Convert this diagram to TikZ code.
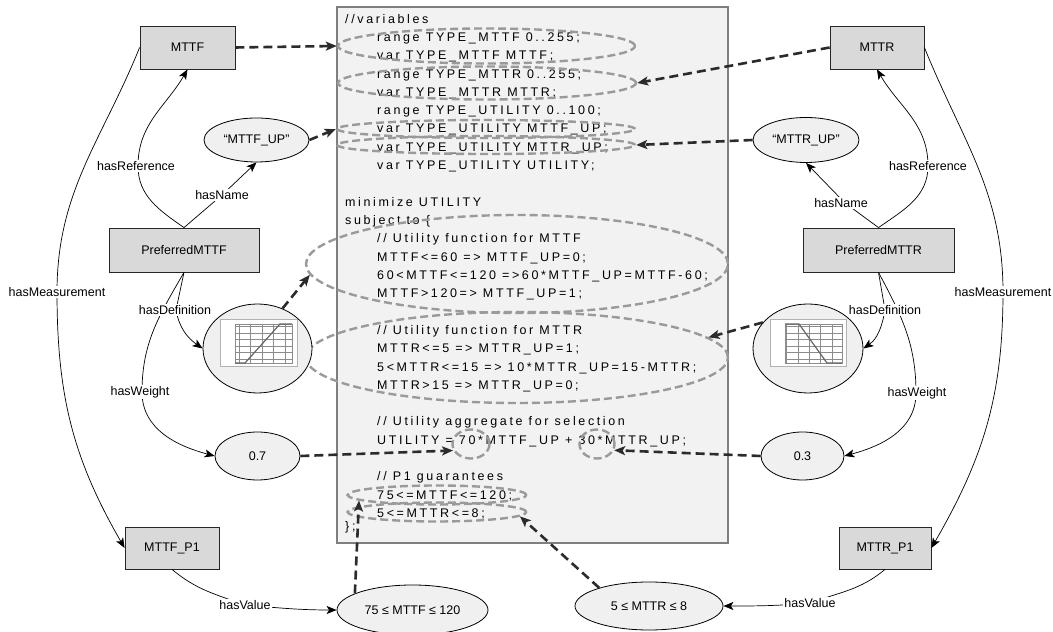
\documentclass[tikz,border=0pt]{standalone}
\usepackage{fontspec}
\setmainfont{Liberation Sans}
\newfontfamily\codefont[LetterSpace=21]{Liberation Sans}
\usetikzlibrary{shapes.geometric,arrows.meta}
\definecolor{boxfill}{HTML}{D9D9D9}
\definecolor{ellfill}{HTML}{F0F0F0}
\definecolor{panelfill}{HTML}{F2F2F2}
\definecolor{panelline}{HTML}{7F7F7F}
\definecolor{gdash}{HTML}{9A9A9A}
\definecolor{bdash}{HTML}{2B2B2B}
\definecolor{gridc}{HTML}{8C8C8C}
\begin{document}
\begin{tikzpicture}[x=1pt,y=1pt,
  box/.style={draw=black!85, fill=boxfill, line width=0.8pt, minimum width=#1, minimum height=43pt, inner sep=0pt, font=\fontsize{12.5}{14}\selectfont},
  box/.default=95pt,
  ell/.style={draw=black, fill=ellfill, line width=0.8pt, ellipse, inner sep=0pt, font=\fontsize{12.5}{14}\selectfont},
  lbl/.style={fill=white, inner sep=1pt, font=\fontsize{12.5}{14}\selectfont},
  rel/.style={draw=black, line width=0.7pt, -{Stealth[length=10pt,width=8pt,inset=2.5pt]}},
  dref/.style={draw=bdash, line width=2.6pt, dash pattern=on 9pt off 5pt, -{Stealth[length=11pt,width=9pt,inset=2.5pt]}},
  gell/.style={draw=gdash, line width=2.4pt, dash pattern=on 8pt off 4pt, ellipse, inner sep=0pt},
  code/.style={anchor=west, inner sep=0pt, text height=9pt, text depth=0pt, font=\codefont\fontsize{12.5}{14}\selectfont},
  panel/.style={draw=panelline, fill=panelfill, line width=1.5pt, inner sep=0pt}
]
\useasboundingbox (0,0) rectangle (1053,632);

% central code panel
\node[panel, minimum width=391pt, minimum height=536pt] (panel) at (532.5,357) {};
\node[code] (c0) at (345,613) {//variables};
\node[code] (c1) at (377,594.5) {range TYPE\_MTTF 0..255;};
\node[code] (c2) at (377,576.5) {var TYPE\_MTTF MTTF;};
\node[code] (c3) at (377,558) {range TYPE\_MTTR 0..255;};
\node[code] (c4) at (377,540) {var TYPE\_MTTR MTTR;};
\node[code] (c5) at (377,521.5) {range TYPE\_UTILITY 0..100;};
\node[code] (c6) at (377,503.5) {var TYPE\_UTILITY MTTF\_UP;};
\node[code] (c7) at (377,485) {var TYPE\_UTILITY MTTR\_UP;};
\node[code] (c8) at (377,467) {var TYPE\_UTILITY UTILITY;};
\node[code] (c10) at (345,430) {minimize UTILITY};
\node[code] (c11) at (345,412) {subject to \{};
\node[code] (c12) at (377,393.5) {// Utility function for MTTF};
\node[code] (c13) at (377,375) {MTTF<=60 => MTTF\_UP=0;};
\node[code] (c14) at (377,357) {60<MTTF<=120 =>60*MTTF\_UP=MTTF-60;};
\node[code] (c15) at (377,338.5) {MTTF>120=> MTTF\_UP=1;};
\node[code] (c17) at (377,302) {// Utility function for MTTR};
\node[code] (c18) at (377,283.5) {MTTR<=5 => MTTR\_UP=1;};
\node[code] (c19) at (377,265) {5<MTTR<=15 => 10*MTTR\_UP=15-MTTR;};
\node[code] (c20) at (377,247) {MTTR>15 => MTTR\_UP=0;};
\node[code] (c22) at (377,210.5) {// Utility aggregate for selection};
\node[code] (c23) at (377,192) {UTILITY = 70*MTTF\_UP + 30*MTTR\_UP;};
\node[code] (c25) at (377,155.5) {// P1 guarantees};
\node[code] (c26) at (377,137) {75<=MTTF<=120;};
\node[code] (c27) at (377,119) {5<=MTTR<=8;};
\node[code] (c28) at (345,106) {\};};

% dashed grey highlight ellipses
\node[gell, minimum width=297pt, minimum height=35pt] (E1) at (486.5,586) {};
\node[gell, minimum width=298pt, minimum height=33pt] (E2) at (487,549) {};
\node[gell, minimum width=298pt, minimum height=18pt] (E3) at (486,503) {};
\node[gell, minimum width=298pt, minimum height=18pt] (E4) at (486,487) {};
\node[gell, minimum width=422pt, minimum height=98pt] (E5) at (517,368) {};
\node[gell, minimum width=422pt, minimum height=91pt] (E6) at (517,274.5) {};
\node[gell, minimum width=37pt, minimum height=29pt] (E7) at (471,188) {};
\node[gell, minimum width=35pt, minimum height=29pt] (E8) at (597,188) {};
\node[gell, minimum width=179pt, minimum height=19pt] (E9) at (437,137) {};
\node[gell, minimum width=179pt, minimum height=19pt] (E10) at (437,120) {};

% concept nodes
\node[box=95pt] (mttf) at (187.5,584.5) {MTTF};
\node[box=94pt] (mttr) at (877,584.5) {MTTR};
\node[ell, minimum width=105pt, minimum height=44pt] (mttfup) at (256.5,492) {“MTTF\_UP”};
\node[ell, minimum width=106pt, minimum height=45pt] (mttrup) at (806,492) {“MTTR\_UP”};
\node[box=150pt, minimum height=44pt] (prefF) at (184,382) {PreferredMTTF};
\node[box=151pt, minimum height=44pt] (prefR) at (878.5,382) {PreferredMTTR};
\node[ell, minimum width=109pt, minimum height=89pt] (chartL) at (257.5,283.5) {};
\node[ell, minimum width=110pt, minimum height=89pt] (chartR) at (808,283.5) {};
\node[ell, minimum width=85pt, minimum height=48pt] (v07) at (257.5,176) {0.7};
\node[ell, minimum width=83pt, minimum height=48pt] (v03) at (802.5,176) {0.3};
\node[box=94pt, minimum height=42pt] (mttfp1) at (172,84) {MTTF\_P1};
\node[box=92pt, minimum height=42pt] (mttrp1) at (885,84) {MTTR\_P1};
\node[ell, minimum width=151pt, minimum height=50pt] (mttfval) at (412.5,22) {75 ≤ MTTF ≤ 120};
\node[ell, minimum width=148pt, minimum height=48pt] (mttrval) at (649,26) {5 ≤ MTTR ≤ 8};

% small charts
\filldraw[fill=white, draw=black!30, line width=1pt] (220,265) rectangle (297,312);
\draw[gridc, line width=0.9pt] (235,269) grid[xstep=11.4, ystep=6.5] (292,308);
\draw[gridc, line width=0.9pt] (235,269) rectangle (292,308);
\draw[black!60, line width=1.2pt] (235,269) -- (245,269) -- (280,308) -- (292,308);
\filldraw[fill=white, draw=black!30, line width=1pt] (770,265) rectangle (846,312);
\draw[gridc, line width=0.9pt] (785,269) grid[xstep=11.4, ystep=6.5] (842,308);
\draw[gridc, line width=0.9pt] (785,269) rectangle (842,308);
\draw[black!60, line width=1.2pt] (785,308) -- (799,308) -- (827,269) -- (842,269);

% label positions
\coordinate (pMeasL) at (57,340);
\coordinate (pMeasR) at (1003,340);
\coordinate (pRefL) at (138,466);
\coordinate (pRefR) at (928,466);
\coordinate (pNameL) at (222,437);
\coordinate (pNameR) at (845,429);
\coordinate (pDefL) at (176,322);
\coordinate (pDefR) at (885,322);
\coordinate (pWtL) at (142,240);
\coordinate (pWtR) at (916,239);
\coordinate (pValL) at (245,27);
\coordinate (pValR) at (810,29);

% relations
\draw[rel] (mttf.west) to[out=248,in=90] (pMeasL) to[out=-90,in=120] (mttfp1.west);
\draw[rel] (mttr.east) to[out=-68,in=90] (pMeasR) to[out=-90,in=60] (mttrp1.east);
\draw[rel] (prefF.north) to[out=145,in=-90] (pRefL) to[out=90,in=-120] (mttf.south);
\draw[rel] (prefR.north) to[out=35,in=-90] (pRefR) to[out=90,in=-60] (mttr.south);
\draw[rel] (prefF.north) -- (pNameL) -- (mttfup.south);
\draw[rel] (prefR.north) -- (pNameR) -- (mttrup.south);
\draw[rel] (prefF.south) to[out=240,in=90] (pWtL) to[out=-90,in=165] (v07.west);
\draw[rel] (prefR.south) to[out=-62,in=90] (pWtR) to[out=-90,in=15] (v03.east);
\draw[rel] (prefF.south) -- (pDefL) to[out=-80,in=145] (chartL.west);
\draw[rel] (prefR.south) -- (pDefR) to[out=-100,in=35] (chartR.east);
\draw[rel] (mttfp1.south) to[out=-40,in=160] (pValL) to[out=-5,in=180] (mttfval.west);
\draw[rel] (mttrp1.south) to[out=-140,in=20] (pValR) to[out=185,in=0] (mttrval.east);

% relation labels
\node[lbl] (lMeasL) at (pMeasL) {hasMeasurement};
\node[lbl] (lMeasR) at (pMeasR) {hasMeasurement};
\node[lbl] (lRefL) at (136,466) {hasReference};
\node[lbl] (lRefR) at (pRefR) {hasReference};
\node[lbl] (lNameL) at (pNameL) {hasName};
\node[lbl] (lNameR) at (841,429) {hasName};
\node[lbl] (lDefL) at (175,322) {hasDefinition};
\node[lbl] (lDefR) at (pDefR) {hasDefinition};
\node[lbl] (lWtL) at (140,240) {hasWeight};
\node[lbl] (lWtR) at (917,239) {hasWeight};
\node[lbl] (lValL) at (pValL) {hasValue};
\node[lbl] (lValR) at (pValR) {hasValue};

% dashed references into the model
\draw[dref] (mttf.east) -- (E1.west);
\draw[dref] (mttr.west) -- (E2.east);
\draw[dref] (mttfup.east) -- (E3.west);
\draw[dref] (mttrup.west) -- (E4.east);
\draw[dref] (chartL.58) -- (E5.183);
\draw[dref] (chartR.150) -- (E6.6);
\draw[dref] (v07.east) -- (E7.200);
\draw[dref] (v03.west) -- (E8.-20);
\draw[dref] (mttfval.164) -- (E9.184);
\draw[dref] (mttrval.160) -- (E10.-3);
\end{tikzpicture}
\end{document}
